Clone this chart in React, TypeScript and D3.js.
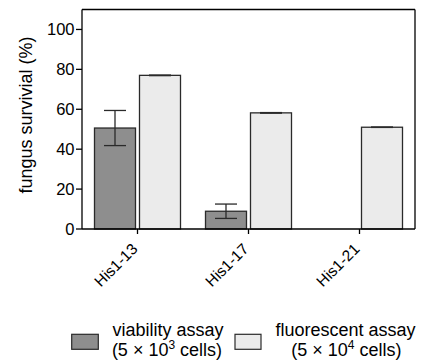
import React from "react";
import * as d3 from "d3";

const categories = ["His1-13", "His1-17", "His1-21"];
const seriesKeys = ["viability", "fluorescent"];
const viabilityMean = [50.6, 8.9, 0];
const viabilitySD = [8.8, 3.6, 0];
const fluorescentMean = [77.0, 58.2, 51.0];
const fluorescentSD = [0.15, 0.15, 0.1];
const yTicks = [0, 20, 40, 60, 80, 100];

const W = 423;
const H = 363;
const left = 82;
const right = 415;
const top = 9.5;
const bottom = 229;

const FONT = "'Liberation Sans', Arial, Helvetica, sans-serif";
const DARK = "#8e8e8e";
const LIGHT = "#ebebeb";
const STROKE = "#2a2a2a";

export default function App() {
  const x = d3.scaleBand<string>().domain(categories).range([left, right]).paddingInner(0).paddingOuter(0);
  const xs = d3
    .scaleBand<string>()
    .domain(seriesKeys)
    .range([0, x.bandwidth()])
    .paddingInner(4 / 45)
    .paddingOuter(0.2778);
  const y = d3.scaleLinear().domain([0, 110]).range([bottom, top]);

  const series = [
    { key: "viability", mean: viabilityMean, sd: viabilitySD, fill: DARK },
    { key: "fluorescent", mean: fluorescentMean, sd: fluorescentSD, fill: LIGHT },
  ];
  const capW = 22;

  return (
    <svg width={W} height={H} style={{ display: "block", position: "absolute", left: 0, top: 0 }} fontFamily={FONT}>
      <rect width={W} height={H} fill="#fff" />
      {series.map((s) =>
        categories.map((c, i) => {
          const bx = (x(c) as number) + (xs(s.key) as number);
          const bw = xs.bandwidth();
          const cx = bx + bw / 2;
          const v = s.mean[i];
          if (v <= 0) return null;
          return (
            <g key={s.key + c}>
              <rect x={bx} y={y(v)} width={bw} height={y(0) - y(v)} fill={s.fill} stroke={STROKE} strokeWidth={1.3} />
              {s.sd[i] > 0 && (
                <g stroke={STROKE} strokeWidth={1.3} fill="none">
                  <line x1={cx} x2={cx} y1={y(v + s.sd[i])} y2={y(v - s.sd[i])} />
                  <line x1={cx - capW / 2} x2={cx + capW / 2} y1={y(v + s.sd[i])} y2={y(v + s.sd[i])} />
                  <line x1={cx - capW / 2} x2={cx + capW / 2} y1={y(v - s.sd[i])} y2={y(v - s.sd[i])} />
                </g>
              )}
            </g>
          );
        })
      )}
      {/* frame */}
      <g stroke="#000" strokeWidth={1.3} fill="none">
        <line x1={left} x2={right} y1={top} y2={top} />
        <line x1={right} x2={right} y1={top} y2={bottom} />
        <line x1={left} x2={left} y1={top} y2={bottom} />
        <line x1={left} x2={right} y1={bottom} y2={bottom} />
      </g>
      {/* y ticks */}
      {yTicks.map((t) => (
        <g key={t}>
          <line x1={left - 6} x2={left} y1={y(t)} y2={y(t)} stroke="#000" strokeWidth={1.3} />
          <text x={left - 7.5} y={y(t)} dy="0.36em" textAnchor="end" fontSize={16.5} fill="#000">
            {t}
          </text>
        </g>
      ))}
      {/* x ticks */}
      {categories.map((c) => {
        const cx = (x(c) as number) + x.bandwidth() / 2;
        return (
          <g key={c}>
            <line x1={cx} x2={cx} y1={bottom} y2={bottom + 5} stroke="#000" strokeWidth={1.3} />
            <text transform={`translate(${cx + 1},${bottom + 21}) rotate(-45)`} textAnchor="end" fontSize={15.5} fill="#000">
              {c}
            </text>
          </g>
        );
      })}
      <text transform={`translate(31.5,115) rotate(-90)`} textAnchor="middle" fontSize={18} fill="#000">
        fungus survivial (%)
      </text>
      {/* legend */}
      <rect x={71.7} y={334.3} width={26.6} height={15} fill={DARK} stroke={STROKE} strokeWidth={1.2} />
      <text x={168} y={336} textAnchor="middle" fontSize={18} fill="#000">viability assay</text>
      <text x={167} y={355.5} textAnchor="middle" fontSize={18} fill="#000">
        (5 × 10<tspan fontSize={12} dy={-7}>3</tspan><tspan dy={7}> cells)</tspan>
      </text>
      <rect x={235} y={334.3} width={26} height={15} fill={LIGHT} stroke={STROKE} strokeWidth={1.2} />
      <text x={345.5} y={336} textAnchor="middle" fontSize={18} fill="#000">fluorescent assay</text>
      <text x={346.3} y={355.5} textAnchor="middle" fontSize={18} fill="#000">
        (5 × 10<tspan fontSize={12} dy={-7}>4</tspan><tspan dy={7}> cells)</tspan>
      </text>
    </svg>
  );
}
